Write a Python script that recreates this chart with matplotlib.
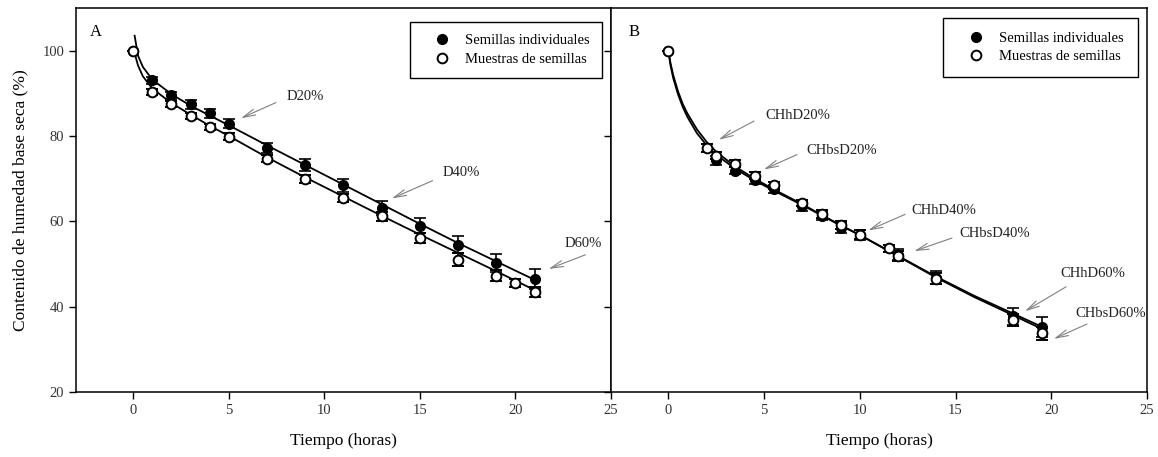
import matplotlib
matplotlib.use("Agg")
import matplotlib.pyplot as plt

plt.rcParams['font.family'] = ['Liberation Serif', 'DejaVu Serif']

# ---- panel A data ----
tA_ind = [0, 1, 2, 3, 4, 5, 7, 9, 11, 13, 15, 17, 19, 21]
vA_ind = [100, 93.1, 89.5, 87.4, 85.3, 82.9, 77.2, 73.1, 68.4, 63.1, 59.0, 54.5, 50.2, 46.5]
eA_ind = [0, 0.8, 0.8, 1.0, 1.0, 1.0, 1.2, 1.4, 1.5, 1.7, 1.8, 2.0, 2.1, 2.3]

tA_mue = [0, 1, 2, 3, 4, 5, 7, 9, 11, 13, 15, 17, 19, 20, 21]
vA_mue = [100, 90.3, 87.6, 84.6, 82.1, 79.8, 74.7, 69.9, 65.5, 61.2, 56.1, 51.0, 47.3, 45.5, 43.5]
eA_mue = [0, 0.7, 0.7, 0.7, 0.7, 0.8, 0.9, 1.0, 1.0, 1.1, 1.2, 1.5, 1.2, 1.0, 1.2]

# fitted curves
cA_ind_t = [0.07, 0.25, 0.5, 1, 2, 3, 4, 5, 7, 9, 11, 13, 15, 17, 19, 21]
cA_ind_v = [103.5, 98.8, 96.2, 93.2, 89.8, 87.1, 84.8, 82.5, 77.8, 73.2, 68.6, 64.0, 59.4, 54.9, 50.6, 46.3]
cA_mue_t = [0, 0.25, 0.5, 1, 2, 3, 4, 5, 7, 9, 11, 13, 15, 17, 19, 21]
cA_mue_v = [100.5, 96.5, 94.0, 91.1, 87.7, 85.0, 82.4, 80.0, 75.0, 70.3, 65.8, 61.3, 56.9, 52.6, 48.3, 43.9]

# ---- panel B data ----
tB_ind = [0, 2.5, 3.5, 4.5, 5.5, 7, 8, 9, 10, 12, 14, 18, 19.5]
vB_ind = [100, 74.3, 71.9, 69.6, 67.6, 63.5, 61.2, 58.4, 56.8, 52.2, 46.8, 37.8, 35.2]
eB_ind = [0, 1.0, 0.9, 0.9, 0.9, 1.0, 1.0, 1.2, 1.2, 1.3, 1.5, 2.0, 2.3]

tB_mue = [0, 2, 2.5, 3.5, 4.5, 5.5, 7, 8, 9, 10, 11.5, 12, 14, 18, 19.5]
vB_mue = [100, 77.2, 75.4, 73.5, 70.7, 68.4, 64.3, 61.8, 59.2, 56.9, 53.7, 51.9, 46.5, 36.9, 33.8]
eB_mue = [0, 1.0, 0.8, 0.8, 0.8, 0.8, 0.8, 0.9, 0.9, 1.0, 0.8, 1.1, 1.3, 1.4, 1.5]

cB_h_t = [0, 0.1, 0.25, 0.5, 0.75, 1, 1.5, 2, 2.5, 3.5, 4.5, 5.5, 7, 8, 9, 10, 12, 14, 16, 18, 19.5]
cB_h_v = [100, 96.8, 93.6, 89.8, 86.8, 84.4, 80.6, 77.8, 75.6, 72.3, 69.6, 67.2, 63.8, 61.4, 59.0, 56.8, 51.9, 47.0, 42.5, 38.4, 35.3]
cB_bs_t = [0, 0.1, 0.25, 0.5, 0.75, 1, 1.5, 2, 2.5, 3.5, 4.5, 5.5, 7, 8, 9, 10, 12, 14, 16, 18, 19.5]
cB_bs_v = [100, 97.3, 94.3, 90.5, 87.5, 85.2, 81.5, 78.6, 76.3, 72.8, 70.0, 67.5, 64.0, 61.5, 59.1, 56.8, 51.8, 46.8, 42.2, 38.0, 34.8]

# annotations: (label, text xy, arrow start, arrow tip)
notesA = [("D20%", (8.05, 89.2), (7.6, 88.1), (5.5, 83.9)),
          ("D40%", (16.2, 71.4), (15.8, 69.8), (13.4, 65.1)),
          ("D60%", (22.6, 54.7), (23.8, 52.4), (21.6, 48.6))]
notesB = [("CHhD20%", (5.07, 84.8), (4.6, 83.8), (2.5, 78.8)),
          ("CHbsD20%", (7.2, 76.6), (6.85, 75.9), (4.85, 71.9)),
          ("CHhD40%", (12.7, 62.6), (12.5, 61.9), (10.3, 57.6)),
          ("CHbsD40%", (15.2, 57.1), (14.95, 56.3), (12.7, 52.8)),
          ("CHhD60%", (20.5, 47.7), (20.9, 45.0), (18.5, 38.6)),
          ("CHbsD60%", (21.25, 38.5), (22.0, 36.2), (20.0, 32.2))]

fig = plt.figure(figsize=(11.58, 4.57), dpi=100)
axA = fig.add_axes([0.0656, 0.1422, 0.4620, 0.8403])
axB = fig.add_axes([0.5276, 0.1422, 0.4629, 0.8403], sharey=axA)

arrow = dict(arrowstyle='->,head_length=0.9,head_width=0.22', color='0.5', lw=0.8)


def panel(ax, t1, v1, e1, t2, v2, e2, c1, c2, notes, letter, leg_anchor, bpad):
    ax.plot(c1[0], c1[1], color='black', lw=1.3, zorder=2)
    ax.plot(c2[0], c2[1], color='black', lw=1.3, zorder=2)
    ax.errorbar(t1, v1, yerr=e1, fmt='o', ms=7, color='black', mfc='black',
                ecolor='black', elinewidth=1.2, capsize=4, capthick=1.2,
                label='Semillas individuales', zorder=3)
    ax.errorbar(t2, v2, yerr=e2, fmt='o', ms=7, color='black', mfc='white',
                mew=1.4, ecolor='black', elinewidth=1.2, capsize=4, capthick=1.2,
                label='Muestras de semillas', zorder=4)
    for txt, pos, start, tip in notes:
        ax.annotate('', xy=tip, xytext=start, arrowprops=arrow, zorder=5)
        ax.text(pos[0], pos[1], txt, fontsize=10.5, va='center', ha='left',
                color='#222222', clip_on=False)
    ax.text(0.026 if letter == 'A' else 0.032, 0.9375, letter, transform=ax.transAxes,
            fontsize=12, va='center', ha='left')
    ax.set_xlim(-3, 25)
    ax.set_ylim(20, 110)
    ax.set_xticks([0, 5, 10, 15, 20, 25])
    ax.set_yticks([20, 40, 60, 80, 100])
    ax.tick_params(direction='out', length=5, width=1, labelsize=10.5,
                   labelcolor='#333333')
    for s in ax.spines.values():
        s.set_linewidth(1.1)
    ax.set_xlabel('Tiempo (horas)', fontsize=12.5, labelpad=12)
    h, l = ax.get_legend_handles_labels()
    leg = ax.legend([x[0] for x in h], l, loc='upper right', bbox_to_anchor=leg_anchor,
                    borderaxespad=0, fancybox=False, framealpha=1, edgecolor='black',
                    fontsize=10.5, handletextpad=0.3, borderpad=bpad,
                    handlelength=2.6, labelspacing=0.35)
    leg.get_frame().set_linewidth(1.0)


panel(axA, tA_ind, vA_ind, eA_ind, tA_mue, vA_mue, eA_mue,
      (cA_ind_t, cA_ind_v), (cA_mue_t, cA_mue_v), notesA, 'A', (0.983, 0.964), 0.85)
panel(axB, tB_ind, vB_ind, eB_ind, tB_mue, vB_mue, eB_mue,
      (cB_h_t, cB_h_v), (cB_bs_t, cB_bs_v), notesB, 'B', (0.983, 0.974), 0.95)

axA.set_ylabel('Contenido de humedad base seca (%)', fontsize=12.5, labelpad=10)
axB.tick_params(labelleft=False)

fig.savefig('out.png', dpi=100)
